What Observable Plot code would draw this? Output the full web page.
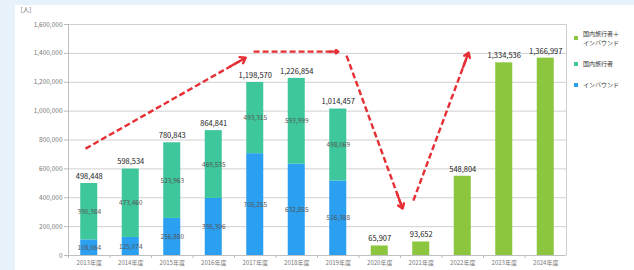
<!DOCTYPE html>
<html><head><meta charset="utf-8">
<script src="https://cdn.jsdelivr.net/npm/d3@7"></script>
<script src="https://cdn.jsdelivr.net/npm/@observablehq/plot@0.6"></script>
<style>
html,body{margin:0;padding:0;background:#e8f2fb;}
#wrap{position:relative;width:634px;height:270px;overflow:hidden;font-family:"Noto Sans CJK JP",sans-serif;}
#panel{position:absolute;left:15px;top:5px;right:0;bottom:0;background:#fff;}
#chart{position:absolute;left:0;top:0;}
#legend{position:absolute;left:574px;top:29px;font-size:6px;color:#333;line-height:9px;white-space:nowrap;}
.li{display:flex;align-items:flex-start;margin-bottom:12px;}
.sw{width:4px;height:4px;margin-right:5px;flex:none;}
</style></head>
<body><div id="wrap"><div id="panel"></div><div id="chart"></div><div id="legend"></div></div>
<script>
const years = [2013,2014,2015,2016,2017,2018,2019,2020,2021,2022,2023,2024];
const totals = [498448,598534,780843,864841,1198570,1226854,1014457,65907,93652,548804,1334536,1366997];
const inbound = [108064,125074,256880,395306,705255,632855,516388,null,null,null,null,null];
const domestic = [390384,473460,523963,469535,493315,593999,498069,null,null,null,null,null];
const seriesNames = ["国内旅行者＋インバウンド","国内旅行者","インバウンド"];
const seriesColors = ["#8cc63f","#3ec79c","#2b9ff0"];
const yTicks = [0,200000,400000,600000,800000,1000000,1200000,1400000,1600000];
// annotation arrows (year position, value)
const arrowX1 = [2012.91, 2016.96, 2019.2, 2020.81];
const arrowY1 = [740000, 1412000, 1384000, 380000];
const arrowX2 = [2016.77, 2019.0, 2020.55, 2022.14];
const arrowY2 = [1370000, 1412000, 325000, 1405000];

const fmt = d3.format(",");
const half = 0.205;
const segs = [];
years.forEach((yr,i)=>{
  if (inbound[i] != null) {
    segs.push({year:yr, y1:0, y2:inbound[i], v:inbound[i], s:"インバウンド"});
    segs.push({year:yr, y1:inbound[i], y2:inbound[i]+domestic[i], v:domestic[i], s:"国内旅行者"});
  } else {
    segs.push({year:yr, y1:0, y2:totals[i], v:totals[i], s:"国内旅行者＋インバウンド"});
  }
});
const tot = years.map((yr,i)=>({year:yr, v:totals[i], bold: inbound[i]!=null}));
const arrows = arrowX1.map((x,i)=>({x1:x, y1:arrowY1[i], x2:arrowX2[i], y2:arrowY2[i]}));
const heads = arrows.map(a=>({x1:a.x1+(a.x2-a.x1)*0.9, y1:a.y1+(a.y2-a.y1)*0.9, x2:a.x2, y2:a.y2}));
const bounds = years.slice(0,-1).map(y=>y+0.5).concat([years[0]-0.5]);

const plot = Plot.plot({
  width:634, height:270,
  marginLeft:68, marginRight:68, marginTop:24, marginBottom:15,
  style:{fontFamily:"'Noto Sans CJK JP', sans-serif", background:"transparent", overflow:"visible"},
  x:{domain:[2012.5,2024.5]},
  y:{domain:[0,1600000]},
  color:{domain:seriesNames, range:seriesColors},
  marks:[
    Plot.ruleY(yTicks.slice(1), {stroke:"#c4c4c4", strokeWidth:0.8}),
    Plot.ruleX([2024.5], {y1:0, y2:1600000, stroke:"#c4c4c4", strokeWidth:0.8}),
    Plot.ruleX([2012.5], {y1:0, y2:1600000, stroke:"#b0b0b0", strokeWidth:0.8}),
    Plot.ruleY([0], {stroke:"#b0b0b0", strokeWidth:0.8}),
    Plot.axisY({ticks:yTicks, tickFormat:fmt, tickSize:4, tickPadding:2, fontSize:6.5, stroke:"#bbb", fill:"#777"}),
    Plot.axisX({ticks:bounds, tickFormat:()=>"", tickSize:3, stroke:"#bbb", label:null}),
    Plot.axisX({ticks:years, tickFormat:d=>d+"年度", tickSize:0, tickPadding:5, fontSize:6, fill:"#777", label:null}),
    Plot.text(["[人]"], {frameAnchor:"top-left", dx:-48, dy:-17, fontSize:6.5, fill:"#666", textAnchor:"start"}),
    Plot.rect(segs, {x1:d=>d.year-half, x2:d=>d.year+half, y1:"y1", y2:"y2", fill:"s"}),
    Plot.text(segs.filter(d=>d.s!=="国内旅行者＋インバウンド"), {x:"year", y:d=>(d.y1+d.y2)/2, text:d=>fmt(d.v), fontSize:6.5, fill:"#555"}),
    Plot.text(tot, {x:"year", y:"v", text:d=>fmt(d.v), dy:-7, fontSize:7.5, fontWeight:d=>d.bold?"bold":"normal", fill:"#222"}),
    Plot.link(arrows, {x1:"x1", y1:"y1", x2:"x2", y2:"y2", stroke:"#e52f35", strokeWidth:2.4, strokeDasharray:"6,3"}),
    Plot.arrow(heads, {x1:"x1", y1:"y1", x2:"x2", y2:"y2", stroke:"#e52f35", strokeWidth:2.4, headLength:10, headAngle:70})
  ]
});
document.getElementById("chart").appendChild(plot);

const lg = document.getElementById("legend");
const lgText = ["国内旅行者＋<br>インバウンド","国内旅行者","インバウンド"];
seriesNames.forEach((n,i)=>{
  const d = document.createElement("div"); d.className="li";
  d.innerHTML = `<span class="sw" style="background:${seriesColors[i]};margin-top:${i===0?7:3}px"></span><span>${lgText[i]}</span>`;
  lg.appendChild(d);
});
</script></body></html>
